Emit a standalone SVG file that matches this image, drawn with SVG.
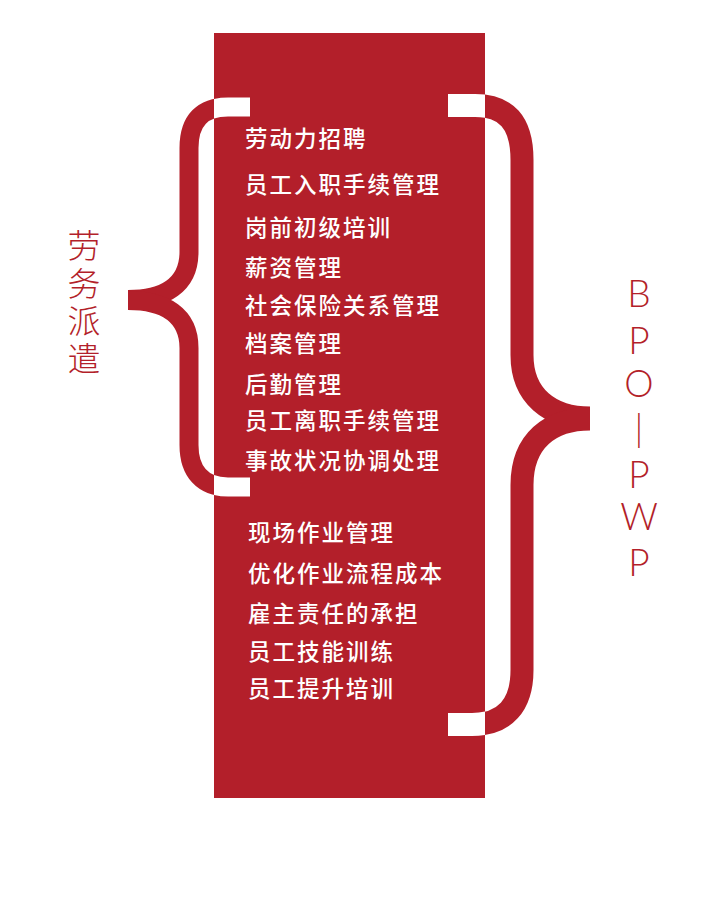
<svg xmlns="http://www.w3.org/2000/svg" width="706" height="897" viewBox="0 0 706 897">
<style>
.item{font-family:"Noto Sans CJK SC","Noto Sans",sans-serif;font-size:22.5px;font-weight:500;fill:#ffffff;letter-spacing:2px;dominant-baseline:central}
.side{font-family:"Noto Sans CJK SC","Noto Sans",sans-serif;font-size:33px;font-weight:300;fill:#B31F2A;writing-mode:vertical-rl;letter-spacing:4.5px}
.latin{font-family:"Lato","Open Sans","Liberation Sans",sans-serif;font-size:37px;font-weight:300;fill:#B31F2A;text-anchor:middle;dominant-baseline:central}
.brace{fill:none;stroke-linecap:butt;stroke-linejoin:round}
</style>
<defs>
<clipPath id="inRect"><rect x="214" y="33" width="271" height="765"/></clipPath>
<path id="lb1" d="M250,107 L228,107 C203,107 189,120 189,148 L189,252 C189,285 165,299.5 128,299.5"/>
<path id="lb2" d="M128,300.5 C165,300.5 189,315 189,348 L189,445 C189,472 203,487 228,487 L250,487"/>
<path id="rb1" d="M448,105.5 L475,105.5 C506,105.5 522,122 522,160 L522,355 C522,396 550,418 590,418"/>
<path id="rb2" d="M590,419 C550,419 522,441 522,485 L522,670 C522,705 505,724.5 472,724.5 L448,724.5"/>
</defs>
<rect id="panel" x="214" y="33" width="271" height="765" fill="#B31F2A"/>
<g id="connectors">
<g class="brace" stroke="#B31F2A">
<use href="#lb1" stroke-width="19"/><use href="#lb2" stroke-width="19"/>
<use href="#rb1" stroke-width="23"/><use href="#rb2" stroke-width="23"/>
</g>
<g class="brace" stroke="#ffffff" clip-path="url(#inRect)">
<use href="#lb1" stroke-width="19"/><use href="#lb2" stroke-width="19"/>
<use href="#rb1" stroke-width="23"/><use href="#rb2" stroke-width="23"/>
</g>
</g>
<g id="group-labour">
<text class="item" x="245" y="137">劳动力招聘</text>
<text class="item" x="245" y="183">员工入职手续管理</text>
<text class="item" x="245" y="226">岗前初级培训</text>
<text class="item" x="245" y="266">薪资管理</text>
<text class="item" x="245" y="304">社会保险关系管理</text>
<text class="item" x="245" y="342">档案管理</text>
<text class="item" x="245" y="383">后勤管理</text>
<text class="item" x="245" y="419">员工离职手续管理</text>
<text class="item" x="245" y="459">事故状况协调处理</text>
</g>
<g id="group-bpo">
<text class="item" x="248" y="531">现场作业管理</text>
<text class="item" x="248" y="572">优化作业流程成本</text>
<text class="item" x="248" y="612">雇主责任的承担</text>
<text class="item" x="248" y="650">员工技能训练</text>
<text class="item" x="248" y="687">员工提升培训</text>
</g>
<g id="label-left">
<text class="side" x="84" y="229">劳务派遣</text>
</g>
<g id="label-right">
<text class="latin" x="639" y="292">B</text>
<text class="latin" x="639" y="339">P</text>
<text class="latin" x="639" y="382">O</text>
<text class="latin" x="639" y="426">|</text>
<text class="latin" x="639" y="473">P</text>
<text class="latin" x="639" y="515">W</text>
<text class="latin" x="639" y="561">P</text>
</g>
</svg>
